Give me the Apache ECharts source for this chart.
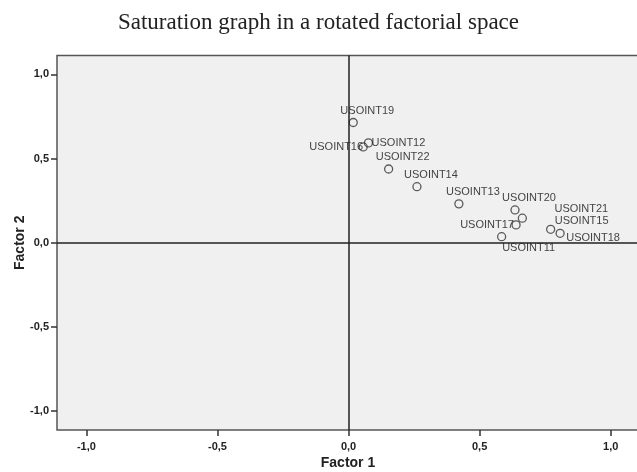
<!DOCTYPE html>
<html>
<head>
<meta charset="utf-8">
<script src="https://cdn.jsdelivr.net/npm/echarts@6/dist/echarts.min.js"></script>
<style>
html,body{margin:0;padding:0;background:#fff;}
#chart{width:637px;height:472px;}
</style>
</head>
<body>
<div id="chart"></div>
<script>
// ---- data ----
const names = ['USOINT19','USOINT16','USOINT12','USOINT22','USOINT14','USOINT13','USOINT20','USOINT21','USOINT17','USOINT11','USOINT15','USOINT18'];
const factor1 = [0.018,0.056,0.076,0.153,0.261,0.421,0.635,0.663,0.639,0.584,0.771,0.807];
const factor2 = [0.714,0.569,0.593,0.438,0.333,0.231,0.195,0.146,0.106,0.036,0.080,0.056];
const tickValues = [-1,-0.5,0,0.5,1];
const titleText = 'Saturation graph in a rotated factorial space';
const xName = 'Factor 1';
const yName = 'Factor 2';

// ---- label placement (layout only) ----
const labelOffsets = {
  USOINT16: [-27, 0],
  USOINT12: [30, 0],
  USOINT21: [59, -9],
  USOINT15: [31, -8],
  USOINT18: [33, 5],
  USOINT17: [-29, 0],
  USOINT11: [27, 11]
};
const defaultOffset = [14, -12];

const fmt = v => v.toFixed(1).replace('.', ',');

const points = names.map((n, i) => ({
  name: n,
  value: [factor1[i], factor2[i]]
}));

const chart = echarts.init(document.getElementById('chart'), null, {renderer: 'canvas'});
const axisCommon = {
  type: 'value',
  splitLine: {show: false},
  axisLine: {show: false, onZero: false},
  axisTick: {show: true, length: 6, inside: false, customValues: tickValues, lineStyle: {color: '#333', width: 1.5}},
  axisLabel: {customValues: tickValues, formatter: fmt, color: '#222', fontSize: 11, fontWeight: 'bold', fontFamily: 'Liberation Sans, Arial, sans-serif'},
  nameLocation: 'middle',
  nameMoveOverlap: false,
  nameTextStyle: {color: '#222', fontSize: 14, fontWeight: 'bold', fontFamily: 'Liberation Sans, Arial, sans-serif'}
};
chart.setOption({
  animation: false,
  backgroundColor: '#ffffff',
  title: {
    text: titleText,
    left: 'center',
    top: 6,
    textStyle: {fontFamily: 'Liberation Serif, serif', fontWeight: 'normal', fontSize: 23, color: '#222'}
  },
  grid: {
    left: 57, top: 55.5, right: -2, bottom: 42,
    containLabel: false,
    outerBoundsMode: 'none',
    show: true, backgroundColor: '#f0f0f0', borderColor: '#555', borderWidth: 1.5
  },
  xAxis: Object.assign({}, axisCommon, {
    min: -1.112, max: 1.108, name: xName, nameGap: 26,
    axisLabel: Object.assign({}, axisCommon.axisLabel, {margin: 11})
  }),
  yAxis: Object.assign({}, axisCommon, {
    min: -1.112, max: 1.112, name: yName, nameGap: 30,
    axisLabel: Object.assign({}, axisCommon.axisLabel, {margin: 8})
  }),
  series: [{
    type: 'scatter',
    data: points,
    symbol: 'circle',
    symbolSize: 8,
    itemStyle: {color: 'rgba(0,0,0,0)', borderColor: '#333', borderWidth: 1.3},
    label: {
      show: true,
      position: 'inside',
      formatter: '{b}',
      align: 'center',
      verticalAlign: 'middle',
      color: '#111',
      fontSize: 11,
      fontFamily: 'Liberation Sans, Arial, sans-serif'
    },
    labelLayout: function (params) {
      const off = labelOffsets[names[params.dataIndex]] || defaultOffset;
      return {dx: off[0], dy: off[1], hideOverlap: false};
    },
    markLine: {
      silent: true,
      symbol: ['none', 'none'],
      label: {show: false},
      lineStyle: {color: '#222', width: 1.5, type: 'solid'},
      data: [{xAxis: 0}, {yAxis: 0}]
    }
  }]
});
</script>
</body>
</html>
